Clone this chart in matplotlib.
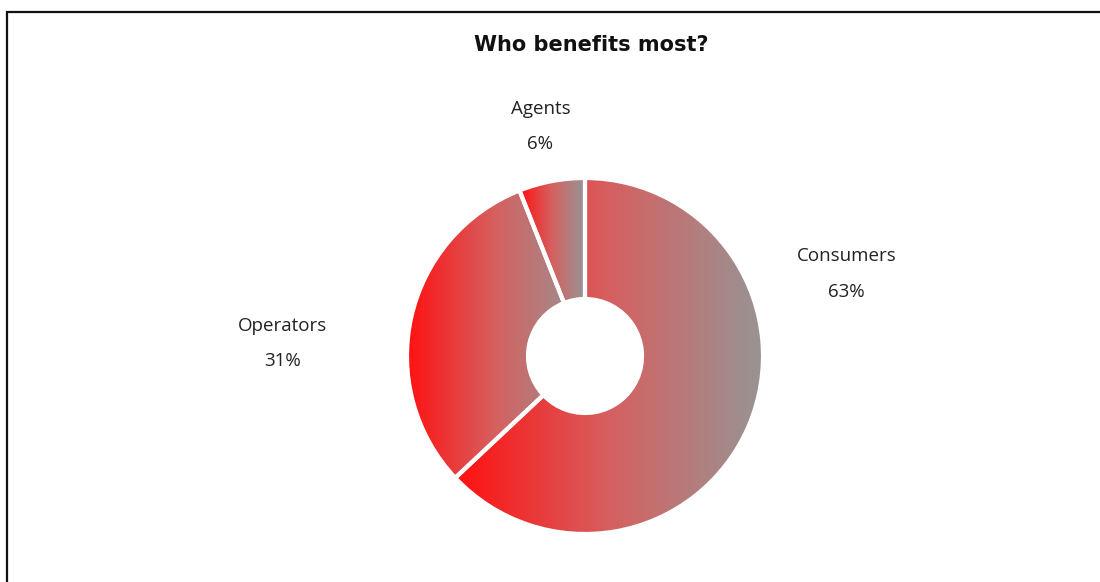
import matplotlib.pyplot as plt
import numpy as np
from matplotlib.colors import LinearSegmentedColormap

labels = ["Consumers", "Operators", "Agents"]
shares = [63, 31, 6]
# where each label sits, relative to the pie centre in units of the radius
label_offsets = [(1.47, 0.46), (-1.70, 0.07), (-0.25, 1.29)]

W, H = 1100, 582
cx, cy = 585, H - 356
R = 178
hole = 57

fig = plt.figure(figsize=(W / 100, H / 100), dpi=100)
ax = fig.add_axes([0, 0, 1, 1])

wedges, _ = ax.pie(shares, radius=R, center=(cx, cy), startangle=90,
                   counterclock=False, frame=True,
                   wedgeprops=dict(width=R - hole, facecolor='none',
                                   edgecolor='white', linewidth=3))

# horizontal red -> grey gradient inside every wedge
grad = LinearSegmentedColormap.from_list(
    "rg", [(0, "#ff1010"), (0.5, "#d66060"), (1, "#979595")])
img = np.linspace(0, 1, 256).reshape(1, -1)
for w in wedges:
    v = w.get_path().vertices
    x0, x1 = v[:, 0].min(), v[:, 0].max()
    y0, y1 = v[:, 1].min(), v[:, 1].max()
    im = ax.imshow(img, cmap=grad, extent=(x0, x1, y0, y1), aspect='auto',
                   interpolation='bilinear', zorder=0)
    im.set_clip_path(w)

for lab, s, (dx, dy) in zip(labels, shares, label_offsets):
    ax.text(cx + dx * R, cy + dy * R, f"{lab}\n{s}%", ha='center', va='center',
            fontsize=13.5, family='Open Sans', color='#222222', linespacing=2.25)

ax.text(591, H - 45, "Who benefits most?", ha='center', va='center',
        fontsize=15, fontweight='bold', family='DejaVu Sans', color='#111111')

# outer chart border (only top and left edges are visible in the crop)
ax.plot([6.5, 6.5, W + 5], [-5, H - 11.5, H - 11.5], color='#111111', lw=1.6,
        clip_on=False, solid_joinstyle='miter')

ax.set_xlim(0, W)
ax.set_ylim(0, H)
ax.axis('off')

fig.savefig("out.png", dpi=100, facecolor='white')
